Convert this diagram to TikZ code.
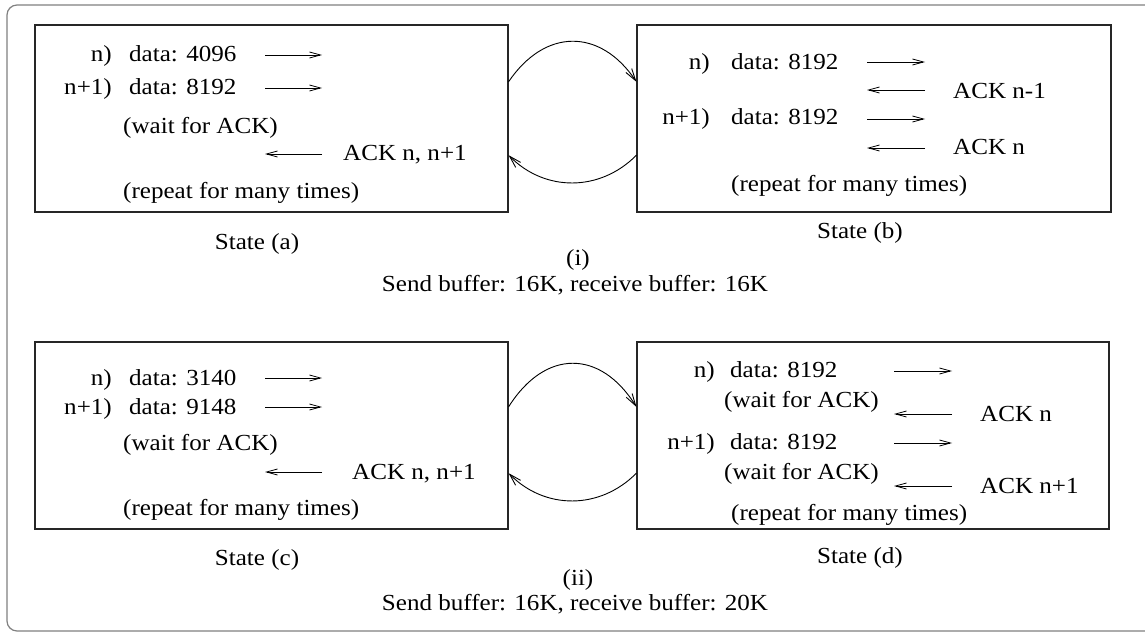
\documentclass[tikz,border=0pt]{standalone}
\usepackage{fontspec}
\setmainfont{Liberation Serif}[FakeStretch=1.09]
\usetikzlibrary{arrows.meta,calc}
\begin{document}
\begin{tikzpicture}[x=1pt,y=-1pt,
  txt/.style={inner sep=0pt,font=\fontsize{23}{28}\selectfont},
  lt/.style={txt,anchor=base west},
  rt/.style={txt,anchor=base east},
  ct/.style={txt,anchor=center},
  box/.style={draw=black!85,line width=1.1pt,rectangle,inner sep=0pt},
  msg/.style={line width=0.8pt,-{Straight Barb[length=11pt,width=6pt]}},
  flow/.style={line width=0.9pt,-{Straight Barb[length=12pt,width=7pt]}}]
\useasboundingbox (0,0) rectangle (1145,636);
\clip (0,0) rectangle (1145,636);
% outer frame
\draw[draw=black!50,line width=1.2pt,rounded corners=10pt] (7,5) rectangle (1170,631);

% boxes
\node[box,minimum width=473pt,minimum height=187pt] (A) at (271.5,118.5) {};
\node[box,minimum width=474pt,minimum height=187pt] (B) at (874,118.5) {};
\node[box,minimum width=473pt,minimum height=187pt] (C) at (271.5,435.5) {};
\node[box,minimum width=472pt,minimum height=187pt] (D) at (873,435.5) {};

% ---------- State (a)
\node[rt] (a1n) at (112,62) {n)};
\node[lt] (a1d) at (129,62) {data: 4096};
\node[rt] (a2n) at (112,95) {n+1)};
\node[lt] (a2d) at (129,95) {data: 8192};
\node[lt] (aw) at (123,134) {(wait for ACK)};
\node[lt] (aack) at (343,161) {ACK n, n+1};
\node[lt] (ar) at (123,199) {(repeat for many times)};
\node[ct] (al) at (257,244) {State (a)};
\coordinate (a1s) at (265,55); \coordinate (a1e) at (322,55);
\coordinate (a2s) at (265,88); \coordinate (a2e) at (322,88);
\coordinate (a3s) at (322,154); \coordinate (a3e) at (265,154);
\draw[msg] (a1s) -- (a1e);
\draw[msg] (a2s) -- (a2e);
\draw[msg] (a3s) -- (a3e);

% ---------- State (b)
\node[rt] (b1n) at (710,70) {n)};
\node[lt] (b1d) at (731,70) {data: 8192};
\node[lt] (back1) at (953,99) {ACK n-1};
\node[rt] (b2n) at (710,125) {n+1)};
\node[lt] (b2d) at (731,125) {data: 8192};
\node[lt] (back2) at (953,155) {ACK n};
\node[lt] (br) at (731,192) {(repeat for many times)};
\node[ct] (bl) at (860,233) {State (b)};
\coordinate (b1s) at (867,62); \coordinate (b1e) at (925,62);
\coordinate (b2s) at (925,90); \coordinate (b2e) at (867,90);
\coordinate (b3s) at (867,119); \coordinate (b3e) at (925,119);
\coordinate (b4s) at (925,148); \coordinate (b4e) at (867,148);
\draw[msg] (b1s) -- (b1e);
\draw[msg] (b2s) -- (b2e);
\draw[msg] (b3s) -- (b3e);
\draw[msg] (b4s) -- (b4e);

\node[ct] (ilab) at (578,260) {(i)};
\node[ct] (icap) at (575,285) {Send buffer: 16K, receive buffer: 16K};

% curves (i)
\coordinate (ABt) at ($(A.north east)!0.305!(A.south east)$);
\coordinate (BAt) at ($(B.north west)!0.305!(B.south west)$);
\coordinate (ABb) at ($(A.north east)!0.695!(A.south east)$);
\coordinate (BAb) at ($(B.north west)!0.695!(B.south west)$);
\draw[flow] (ABt) .. controls (545,28) and (600,28) .. (BAt);
\draw[flow] (BAb) .. controls (600,192) and (545,192) .. (ABb);

% ---------- State (c)
\node[rt] (c1n) at (112,385) {n)};
\node[lt] (c1d) at (129,385) {data: 3140};
\node[rt] (c2n) at (112,414) {n+1)};
\node[lt] (c2d) at (129,414) {data: 9148};
\node[lt] (cw) at (123,450) {(wait for ACK)};
\node[lt] (cack) at (352,479) {ACK n, n+1};
\node[lt] (cr) at (123,515) {(repeat for many times)};
\node[ct] (cl) at (257,560) {State (c)};
\coordinate (c1s) at (265,378); \coordinate (c1e) at (322,378);
\coordinate (c2s) at (265,407); \coordinate (c2e) at (322,407);
\coordinate (c3s) at (322,472); \coordinate (c3e) at (265,472);
\draw[msg] (c1s) -- (c1e);
\draw[msg] (c2s) -- (c2e);
\draw[msg] (c3s) -- (c3e);

% ---------- State (d)
\node[rt] (d1n) at (715,377) {n)};
\node[lt] (d1d) at (730,377) {data: 8192};
\node[lt] (dw1) at (724,407) {(wait for ACK)};
\node[lt] (dack1) at (980,421) {ACK n};
\node[rt] (d2n) at (715,449) {n+1)};
\node[lt] (d2d) at (730,449) {data: 8192};
\node[lt] (dw2) at (724,479) {(wait for ACK)};
\node[lt] (dack2) at (980,493) {ACK n+1};
\node[lt] (dr) at (731,520) {(repeat for many times)};
\node[ct] (dl) at (860,558) {State (d)};
\coordinate (d1s) at (894,371); \coordinate (d1e) at (952,371);
\coordinate (d2s) at (952,414); \coordinate (d2e) at (894,414);
\coordinate (d3s) at (894,443); \coordinate (d3e) at (952,443);
\coordinate (d4s) at (952,486); \coordinate (d4e) at (894,486);
\draw[msg] (d1s) -- (d1e);
\draw[msg] (d2s) -- (d2e);
\draw[msg] (d3s) -- (d3e);
\draw[msg] (d4s) -- (d4e);

\node[ct] (iilab) at (578,580) {(ii)};
\node[ct] (iicap) at (575,604) {Send buffer: 16K, receive buffer: 20K};

% curves (ii)
\coordinate (CDt) at ($(C.north east)!0.348!(C.south east)$);
\coordinate (DCt) at ($(D.north west)!0.348!(D.south west)$);
\coordinate (CDb) at ($(C.north east)!0.70!(C.south east)$);
\coordinate (DCb) at ($(D.north west)!0.70!(D.south west)$);
\draw[flow] (CDt) .. controls (545,349) and (600,349) .. (DCt);
\draw[flow] (DCb) .. controls (600,510) and (545,510) .. (CDb);
\end{tikzpicture}
\end{document}
